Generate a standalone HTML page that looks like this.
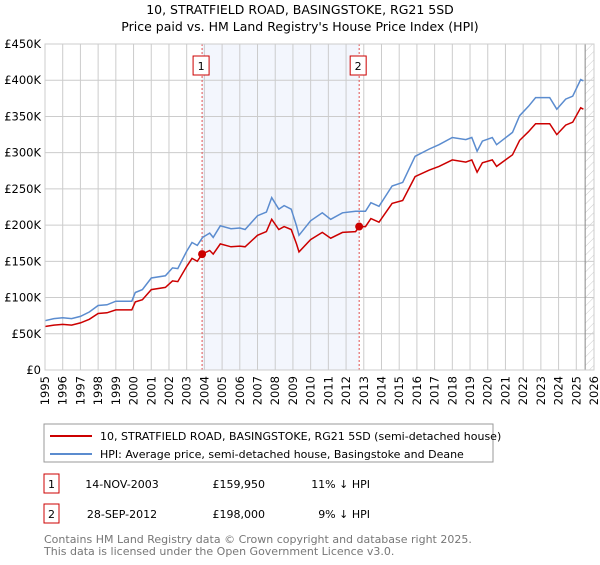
<!DOCTYPE html>
<html><head><meta charset="utf-8"><style>
body{margin:0;background:#fff;width:600px;height:560px;overflow:hidden;font-family:"Liberation Sans","DejaVu Sans",sans-serif;}
svg text{font-family:"DejaVu Sans","Liberation Sans",sans-serif;}
</style></head><body>
<svg id="c" width="600" height="560">
<defs><pattern id="hatch" width="6" height="6" patternUnits="userSpaceOnUse" patternTransform="rotate(45)"><line x1="0" y1="0" x2="0" y2="6" stroke="#ccc" stroke-width="1"/></pattern></defs>
<text x="300" y="14" text-anchor="middle" font-size="12.5">10, STRATFIELD ROAD, BASINGSTOKE, RG21 5SD</text>
<text x="300" y="31" text-anchor="middle" font-size="12.5">Price paid vs. HM Land Registry's House Price Index (HPI)</text>
<g id="plot"></g>
<rect x="44" y="424" width="449" height="38" fill="#fff" stroke="#999"/>
<line x1="50" y1="436" x2="92" y2="436" stroke="#cc0000" stroke-width="2"/>
<text x="100" y="440" font-size="11">10, STRATFIELD ROAD, BASINGSTOKE, RG21 5SD (semi-detached house)</text>
<line x1="50" y1="454" x2="92" y2="454" stroke="#5b8ccf" stroke-width="2"/>
<text x="100" y="458" font-size="11">HPI: Average price, semi-detached house, Basingstoke and Deane</text>
<g font-size="11">
<rect x="44" y="474" width="15" height="19" fill="#fff" stroke="#cc0000"/>
<text x="51.5" y="488" text-anchor="middle">1</text>
<text x="122" y="488" text-anchor="middle">14-NOV-2003</text>
<text x="265" y="488" text-anchor="end">£159,950</text>
<text x="370" y="488" text-anchor="end">11% ↓ HPI</text></g>
<g font-size="11">
<rect x="44" y="504" width="15" height="19" fill="#fff" stroke="#cc0000"/>
<text x="51.5" y="518" text-anchor="middle">2</text>
<text x="122" y="518" text-anchor="middle">28-SEP-2012</text>
<text x="265" y="518" text-anchor="end">£198,000</text>
<text x="370" y="518" text-anchor="end">9% ↓ HPI</text></g>
<text x="44" y="543" font-size="11" fill="#777">Contains HM Land Registry data © Crown copyright and database right 2025.</text>
<text x="44" y="555" font-size="11" fill="#777">This data is licensed under the Open Government Licence v3.0.</text>
</svg>
<script>
const hpiYears=[1995,1995.5,1996,1996.5,1997,1997.5,1998,1998.5,1999,1999.9,2000.1,2000.5,2001,2001.8,2002.2,2002.5,2003,2003.3,2003.6,2003.9,2004.3,2004.5,2004.9,2005.5,2006,2006.3,2007,2007.5,2007.8,2008.2,2008.5,2008.9,2009.2,2009.34,2010,2010.66,2011.13,2011.8,2012.54,2013.1,2013.4,2013.86,2014.6,2015.2,2015.9,2016.7,2017.25,2018.0,2018.76,2019.1,2019.4,2019.7,2020.26,2020.5,2021.4,2021.8,2022.3,2022.7,2023.5,2023.9,2024.4,2024.8,2025.25,2025.4];
const hpiValues=[68,71,72,71,74,80,89,90,95,95,107,111,127,130,141,140,164,176,172,183,189,183,199,195,196,194,213,218,238,222,227,222,199,186,206,217,208,217,219,219,231,226,254,259,295,305,311,321,318,321,302,316,321,311,328,351,364,376,376,360,374,378,401,399];
const priceYears=[1995,1995.5,1996,1996.5,1997,1997.5,1998,1998.5,1999,1999.9,2000.1,2000.5,2001,2001.8,2002.2,2002.5,2003,2003.3,2003.6,2003.87,2004.3,2004.5,2004.9,2005.5,2006,2006.3,2007,2007.5,2007.8,2008.2,2008.5,2008.9,2009.2,2009.34,2010,2010.66,2011.13,2011.8,2012.54,2012.74,2013.1,2013.4,2013.86,2014.6,2015.2,2015.9,2016.7,2017.25,2018.0,2018.76,2019.1,2019.4,2019.7,2020.26,2020.5,2021.4,2021.8,2022.3,2022.7,2023.5,2023.9,2024.4,2024.8,2025.25,2025.4];
const priceValues=[60,62,63,62,65,70,78,79,83,83,94,97,111,114,123,122,143,154,150,160,165,160,174,170,171,170,186,191,208,194,198,194,174,163,180,190,182,190,191,198,198,209,204,230,234,267,276,281,290,287,290,273,286,290,281,297,317,329,340,340,325,338,342,362,360];
const sales=[{n:'1',year:2003.87,value:159.95},{n:'2',year:2012.74,value:198}];
const yTicks=[0,50,100,150,200,250,300,350,400,450];
const yTickLabels=['£0','£50K','£100K','£150K','£200K','£250K','£300K','£350K','£400K','£450K'];
const xTicks=[1995,1996,1997,1998,1999,2000,2001,2002,2003,2004,2005,2006,2007,2008,2009,2010,2011,2012,2013,2014,2015,2016,2017,2018,2019,2020,2021,2022,2023,2024,2025,2026];
const X0=45,X1=594,Y0=370,Y1=44;
const xs=y=>X0+(y-1995)/(2026-1995)*(X1-X0);
const ys=v=>Y0-v/450*(Y0-Y1);
const NS='http://www.w3.org/2000/svg';
const g=document.getElementById('plot');
function mk(t,a,p){const e=document.createElementNS(NS,t);for(const k in a)e.setAttribute(k,a[k]);(p||g).appendChild(e);return e;}
let e;
e=mk('rect',{x:xs(2003.87),y:Y1,width:xs(2012.74)-xs(2003.87),height:Y0-Y1,fill:'#eef2fc',opacity:0.7});


e=mk('rect',{x:xs(2025.5),y:Y1,width:X1-xs(2025.5),height:Y0-Y1,fill:'url(#hatch)'});


yTicks.forEach((v,i)=>{
 e=mk('line',{x1:X0,x2:X1,y1:ys(v),y2:ys(v),stroke:'#ccc'});
 
 
 e=mk('text',{x:X0-4,y:ys(v)+4,'text-anchor':'end','font-size':11.5});
 e.textContent=yTickLabels[i];
 
 
});
xTicks.forEach(y=>{
 e=mk('line',{x1:xs(y),x2:xs(y),y1:Y1,y2:Y0,stroke:'#ccc'});
 
 
 e=mk('text',{transform:`translate(${xs(y)+4},${Y0+6}) rotate(-90)`,'text-anchor':'end','font-size':11.5});
 e.textContent=y;
 
 
});
e=mk('line',{x1:xs(2025.5),x2:xs(2025.5),y1:Y1,y2:Y0,stroke:'#888'});


sales.forEach(s=>{
 e=mk('line',{x1:xs(s.year),x2:xs(s.year),y1:Y1,y2:Y0,stroke:'#e05050','stroke-dasharray':'2,2'});
 
 
});
function path(xa,va,col,name){
 const d=xa.map((y,i)=>(i?'L':'M')+xs(y).toFixed(1)+','+ys(va[i]).toFixed(1)).join('');
 e=mk('path',{d:d,fill:'none',stroke:col,'stroke-width':1.5});
 
 
}
path(hpiYears,hpiValues,'#5b8ccf','hpi-line');
path(priceYears,priceValues,'#cc0000','price-paid-line');
sales.forEach(s=>{
 e=mk('circle',{cx:xs(s.year),cy:ys(s.value),r:4,fill:'#cc0000'});
 
 
 e=mk('rect',{x:xs(s.year)-9,y:56,width:16,height:19,fill:'#fff',stroke:'#cc0000'});
 
 
 e=mk('text',{x:xs(s.year)-1,y:70,'text-anchor':'middle','font-size':11});
 e.textContent=s.n;
 
 
});
e=mk('rect',{x:X0,y:Y1,width:X1-X0,height:Y0-Y1,fill:'none',stroke:'#ccc'});


</script>
</body></html>
